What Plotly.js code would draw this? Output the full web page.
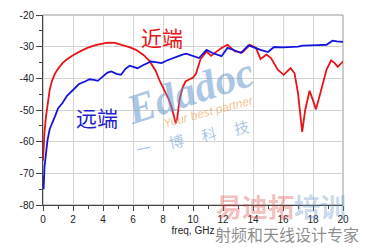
<!DOCTYPE html>
<html>
<head>
<meta charset="utf-8">
<script src="https://cdn.plot.ly/plotly-3.0.1.min.js"></script>
<style>html,body{margin:0;padding:0;background:#fff;}#chart{width:365px;height:251px;}</style>
</head>
<body>
<div id="chart"></div>
<script>
// Near-end crosstalk (近端), dB vs GHz
const nearFreq = [0, 0.05, 0.1, 0.2, 0.3, 0.45, 0.6, 0.8, 1.0, 1.3, 1.6, 2.0, 2.5, 3.0, 3.5, 4.0, 4.3, 4.8, 5.3, 5.8, 6.2, 6.7, 7.1, 7.5, 7.8, 8.1, 8.4, 8.6, 8.75, 8.85, 8.95, 9.1, 9.3, 9.5, 9.8, 10.0, 10.2, 10.5, 10.9, 11.2, 11.5, 11.9, 12.3, 12.8, 13.3, 13.8, 14.2, 14.5, 14.9, 15.2, 15.65, 16.05, 16.5, 16.77, 17.0, 17.15, 17.28, 17.48, 17.77, 17.99, 18.2, 18.55, 18.9, 19.2, 19.45, 19.65, 20];
const nearDb   = [-66, -61, -57, -52, -48, -43.5, -40.8, -38.5, -37, -35.2, -34, -32.7, -31.4, -30.3, -29.5, -28.9, -28.7, -28.8, -29.4, -30.2, -31, -32.6, -34.5, -37.5, -41, -44, -46.8, -49.5, -52.5, -54.2, -52.5, -46.8, -43, -41, -40.2, -39.8, -38.5, -34, -31.5, -32.9, -31.8, -30.4, -29.4, -31.5, -31.8, -29.4, -30.4, -33.9, -32.5, -33.6, -37.3, -38.9, -36.8, -38.4, -44.7, -51, -56.9, -50, -43.9, -46.8, -49.8, -43.6, -37.3, -34.3, -35.2, -36.4, -34.7];

// Far-end crosstalk (远端), dB vs GHz
const farFreq = [0, 0.04, 0.1, 0.2, 0.3, 0.45, 0.6, 0.8, 1.0, 1.3, 1.6, 2.0, 2.4, 2.8, 3.1, 3.4, 3.65, 4.0, 4.3, 4.55, 4.9, 5.2, 5.5, 5.77, 6.0, 6.3, 6.7, 7.2, 7.5, 7.9, 8.3, 8.65, 9.0, 9.3, 9.55, 10.0, 10.4, 10.9, 11.3, 11.9, 12.3, 12.8, 13.2, 13.7, 14.1, 14.5, 15.0, 15.4, 16.0, 16.5, 17.0, 17.3, 17.8, 18.3, 18.9, 19.1, 19.3, 19.6, 20];
const farDb   = [-71, -75, -68, -63, -59.5, -56, -54, -52, -49.5, -47.8, -45.5, -43.8, -41.8, -41, -40.3, -40.5, -40.8, -39.4, -38.2, -37.8, -38.6, -38.9, -37, -36, -36.3, -36.8, -35.8, -34.7, -34.9, -35.2, -34.3, -33.6, -33, -32.5, -32.2, -33, -33.6, -31, -32, -33, -30.4, -31.2, -32, -29.6, -30.4, -31, -31.7, -30.1, -30.2, -30.1, -30, -29.7, -29.5, -29.5, -29.4, -28.6, -28.1, -28.3, -28.5];

const xTickVals = [0, 2, 4, 6, 8, 10, 12, 14, 16, 18, 20];
const yTickVals = [-80, -70, -60, -50, -40, -30, -20];

const traces = [
  {x: nearFreq, y: nearDb, type: 'scatter', mode: 'lines', line: {color: 'rgb(232,20,24)', width: 1.8}, hoverinfo: 'skip'},
  {x: farFreq, y: farDb, type: 'scatter', mode: 'lines', line: {color: 'rgb(20,20,220)', width: 1.8}, hoverinfo: 'skip'}
];

const tickFont = {family: 'Liberation Sans, Arial, sans-serif', size: 10, color: '#222'};
const cjk = 'Noto Sans CJK SC, sans-serif';

const layout = {
  width: 365, height: 251,
  margin: {l: 43, r: 22, t: 15, b: 46},
  paper_bgcolor: '#fff', plot_bgcolor: '#fff',
  showlegend: false,
  xaxis: {
    range: [0, 20], tickvals: xTickVals, ticktext: xTickVals.map(String),
    ticks: 'outside', ticklen: 5, tickcolor: '#444', tickwidth: 1,
    minor: {dtick: 1, ticks: 'outside', ticklen: 3, tickcolor: '#444', showgrid: false},
    showgrid: true, gridcolor: '#d4d4d4', gridwidth: 1,
    showline: true, linecolor: '#444', linewidth: 1,
    zeroline: false, tickfont: tickFont,
    title: {text: 'freq, GHz', font: {family: 'Liberation Sans, Arial, sans-serif', size: 10, color: '#222'}, standoff: 2}
  },
  yaxis: {
    range: [-80, -20], tickvals: yTickVals, ticktext: yTickVals.map(String),
    ticks: 'outside', ticklen: 6, tickcolor: '#444', tickwidth: 1,
    minor: {dtick: 5, ticks: 'outside', ticklen: 3, tickcolor: '#444', showgrid: false},
    showgrid: true, gridcolor: '#d4d4d4', gridwidth: 1,
    showline: true, linecolor: '#444', linewidth: 1,
    zeroline: false, tickfont: tickFont
  },
  shapes: [
    {type: 'rect', xref: 'paper', yref: 'paper', x0: 0, x1: 1, y0: 0, y1: 1, line: {color: '#999', width: 1}, layer: 'below'}
  ],
  annotations: [
    {text: '近端', x: 7.9, y: -27.1, xref: 'x', yref: 'y', showarrow: false, font: {family: cjk, size: 21, color: 'rgb(232,20,24)'}},
    {text: '远端', x: 3.57, y: -52.2, xref: 'x', yref: 'y', showarrow: false, font: {family: cjk, size: 21, color: 'rgb(30,30,210)'}},
    {text: '<b><i>Edadoc</i></b>', x: 0.49, y: 0.6, xref: 'paper', yref: 'paper', xanchor: 'center', yanchor: 'middle', showarrow: false, textangle: -18, font: {family: 'Liberation Serif, serif', size: 42, color: 'rgba(100,150,205,0.55)'}},
    {text: '<i>Your best partner</i>', x: 0.55, y: 0.49, xref: 'paper', yref: 'paper', xanchor: 'center', yanchor: 'middle', showarrow: false, textangle: -15, font: {family: 'Liberation Sans, sans-serif', size: 12, color: 'rgba(240,150,70,0.6)'}},
    {text: '一　 博　 科　 技', x: 0.497, y: 0.353, xref: 'paper', yref: 'paper', xanchor: 'center', yanchor: 'middle', showarrow: false, textangle: -12, font: {family: cjk, size: 15, color: 'rgba(100,150,205,0.55)'}},
    {text: '<b><span style="color:rgba(225,70,70,0.6)">易迪拓</span><span style="color:rgba(100,150,205,0.6)">培训</span></b>', x: 0.793, y: 0.0, xref: 'paper', yref: 'paper', xanchor: 'center', yanchor: 'middle', showarrow: false, font: {family: cjk, size: 26, color: 'rgba(225,70,70,0.6)'}},
    {text: '射频和天线设计专家', x: 0.813, y: -0.153, xref: 'paper', yref: 'paper', xanchor: 'center', yanchor: 'middle', showarrow: false, font: {family: cjk, size: 16, color: 'rgba(90,90,90,0.7)'}}
  ]
};

Plotly.newPlot('chart', traces, layout, {staticPlot: true, displayModeBar: false});
</script>
</body>
</html>
